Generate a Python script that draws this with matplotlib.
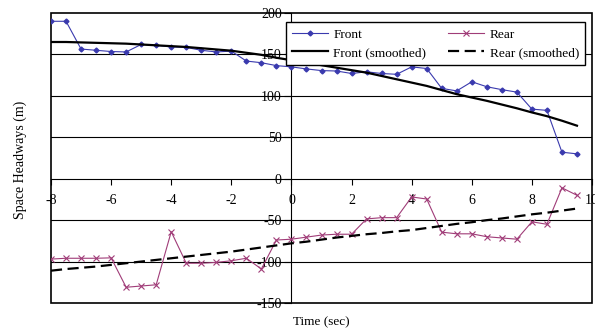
import numpy as np
import matplotlib
matplotlib.use("Agg")
import matplotlib.pyplot as plt

plt.rcParams['font.family'] = ['Liberation Serif', 'DejaVu Serif']
plt.rcParams['axes.unicode_minus'] = False

t = np.arange(-8, 10, 0.5)

front = [190, 190, 156.5, 155, 153.5, 153, 162, 161, 159, 158.5, 155, 153, 154,
         142, 140, 136.5, 135, 132.5, 130.5, 130, 127, 129, 127, 126, 135, 133,
         109, 106, 117, 111, 107.5, 104.5, 84, 82.5, 32, 30]
rear = [-97, -96, -96, -96, -95.5, -131, -129.5, -128, -64, -102, -102, -101, -99,
        -96, -109, -74, -73, -70.5, -68, -67, -67, -48.5, -47, -47, -22, -24.5,
        -64.5, -66.5, -66.5, -70, -71.5, -73, -52, -55, -11, -20]
front_smooth = [165, 165, 164.5, 164, 163.5, 163, 162, 161, 160, 159, 157.5, 156,
                154.5, 152, 149.5, 146, 143, 140, 137, 134, 131, 128, 124, 120,
                116, 112, 107, 102, 98, 94, 89.5, 85, 80, 75.5, 70, 64]
rear_smooth = [-111, -109, -107.5, -106, -104, -102, -100, -98, -96, -94, -92, -90,
               -88, -85.5, -83, -80.5, -78, -76, -73.5, -71, -69, -67, -65.5, -63.5,
               -62, -59.5, -57, -54.5, -52.5, -50, -48, -45.5, -43, -41, -38.5, -36]

fig = plt.figure(figsize=(5.95, 3.31), dpi=100)
ax = fig.add_axes([51/595, 1-303/331, 541/595, 290/331])

# horizontal gridlines
for g in [150, 100, 50, -50, -100]:
    ax.axhline(g, color="black", lw=0.8, zorder=1)

ax.plot(t, front, color="#3a3aae", lw=0.8, marker="D", ms=2.5, label="Front", zorder=3)
ax.plot(t, front_smooth, color="black", lw=1.6, label="Front (smoothed)", zorder=4)
ax.plot(t, rear, color="#a03c78", lw=0.8, marker="x", ms=4, mew=0.8, label="Rear", zorder=3)
ax.plot(t, rear_smooth, color="black", lw=1.6, ls=(0, (5, 2.5)), label="Rear (smoothed)", zorder=4)

ax.set_xlim(-8, 10)
ax.set_ylim(-150, 200)
ax.set_xticks(range(-8, 11, 2))
ax.set_yticks(range(-150, 201, 50))

ax.spines['left'].set_position(('data', 0))
ax.spines['bottom'].set_position(('data', 0))
ax.spines['right'].set_visible(False)
ax.spines['top'].set_visible(False)
ax.patch.set_edgecolor("black")
ax.patch.set_linewidth(1.2)
ax.tick_params(axis='y', direction='out', length=5, width=0.8, pad=2, labelsize=10)
ax.tick_params(axis='x', direction='out', length=4, width=0.8, pad=7, labelsize=10)

fig.text(20/595, 1-160/331, "Space Headways (m)", rotation=90, ha="center", va="center", fontsize=10)
fig.text(321/595, 1-322/331, "Time (sec)", ha="center", va="center", fontsize=9.5)

leg = ax.legend(ncol=2, loc="lower left", bbox_to_anchor=(0.434, 0.821, 0.553, 0.158),
                mode="expand", borderaxespad=0, fancybox=False, edgecolor="black",
                fontsize=9.6, handlelength=2.7, handletextpad=0.4, framealpha=1,
                borderpad=0.45, labelspacing=0.45, columnspacing=1.0)
leg.get_frame().set_linewidth(1.0)

fig.savefig("out.png", dpi=100)
